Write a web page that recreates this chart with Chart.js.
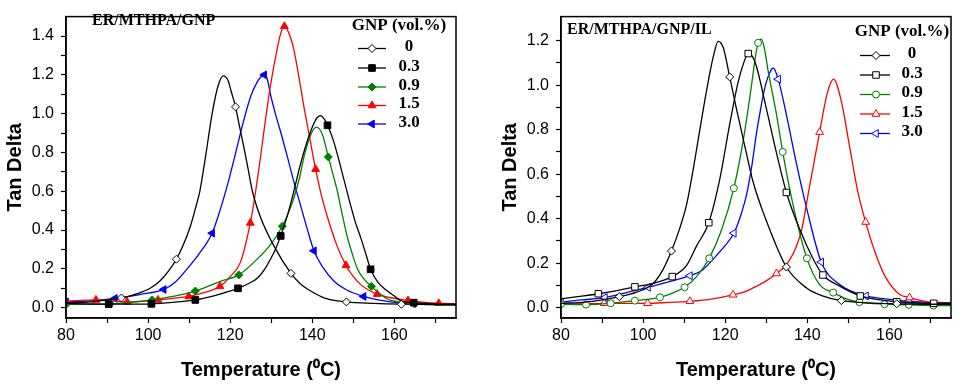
<!DOCTYPE html>
<html>
<head>
<meta charset="utf-8">
<script src="https://cdn.jsdelivr.net/npm/chart.js@4.4.1/dist/chart.umd.min.js"></script>
<style>
html,body{margin:0;padding:0;background:#fff;}
#wrap{position:relative;width:957px;height:385px;overflow:hidden;background:#fff;}
canvas{position:absolute;top:0;}
#cA{left:0;}
#cB{left:478px;}
</style>
</head>
<body>
<div id="wrap">
<canvas id="cA" width="478" height="385"></canvas>
<canvas id="cB" width="479" height="385"></canvas>
</div>
<script>
// ---------------- DATA ----------------
const legendTitle = 'GNP (vol.%)';
const legendLabels = ['0', '0.3', '0.9', '1.5', '3.0'];
const titleA = 'ER/MTHPA/GNP';
const titleB = 'ER/MTHPA/GNP/IL';
const xTitle = 'Temperature (\u2070C)';
const yTitle = 'Tan Delta';

const xMajor = [80, 100, 120, 140, 160];
const xMinor = [90, 110, 130, 150, 170];
const yMajorA = [0.0, 0.2, 0.4, 0.6, 0.8, 1.0, 1.2, 1.4];
const yMinorA = [0.1, 0.3, 0.5, 0.7, 0.9, 1.1, 1.3];
const yMajorB = [0.0, 0.2, 0.4, 0.6, 0.8, 1.0, 1.2];
const yMinorB = [0.1, 0.3, 0.5, 0.7, 0.9, 1.1];

// Panel A : ER/MTHPA/GNP  (T = temperature, V = tan delta, M = marker temperatures)
const a0T = [80, 86, 90, 93.5, 97, 100.5, 103, 105, 106.9, 108.5, 110.3, 111.5, 112.6, 114, 115.6, 117, 118.3, 119.5, 120.3, 121.3, 122.3, 123.3, 124.4, 125.4, 127.4, 130.6, 134.8, 137, 139.6, 143, 148.3, 155, 161.7, 175];
const a0V = [0.025, 0.03, 0.04, 0.05, 0.07, 0.10, 0.14, 0.19, 0.25, 0.32, 0.42, 0.51, 0.60, 0.78, 1.0, 1.14, 1.195, 1.17, 1.11, 1.035, 0.93, 0.83, 0.71, 0.60, 0.465, 0.32, 0.177, 0.125, 0.086, 0.05, 0.03, 0.022, 0.018, 0.015];
const a0M = [93.5, 106.9, 121.3, 134.8, 148.3, 161.7];

const a1T = [80, 85, 90.4, 95, 100.8, 106, 111.5, 116, 119, 121.9, 124.5, 126.6, 128.3, 129.8, 131, 132.3, 134, 135.5, 137, 138.8, 140.4, 141.2, 142, 142.8, 143.7, 145, 146.1, 147.7, 149.3, 150.5, 151.8, 153, 154.2, 156, 158.3, 160, 161.5, 164.7, 170, 175];
const a1V = [0.022, 0.02, 0.018, 0.018, 0.02, 0.028, 0.04, 0.061, 0.08, 0.10, 0.125, 0.152, 0.195, 0.25, 0.30, 0.37, 0.48, 0.60, 0.73, 0.86, 0.95, 0.98, 0.99, 0.975, 0.94, 0.87, 0.79, 0.66, 0.53, 0.44, 0.36, 0.28, 0.198, 0.13, 0.086, 0.06, 0.036, 0.026, 0.02, 0.018];
const a1M = [90.4, 100.8, 111.5, 121.9, 132.3, 143.7, 154.2, 164.7];

const a2T = [80, 90.8, 96, 101, 106, 111.5, 117.6, 122.1, 127.4, 130, 132.7, 134, 135.5, 137, 138, 139.6, 141, 142.5, 143.9, 145, 146.1, 147.3, 148.5, 150, 151, 152.5, 154.4, 156, 158.3, 161, 164.8, 170, 175];
const a2V = [0.017, 0.02, 0.028, 0.04, 0.058, 0.086, 0.136, 0.169, 0.268, 0.33, 0.42, 0.48, 0.565, 0.68, 0.78, 0.89, 0.93, 0.89, 0.777, 0.69, 0.60, 0.48, 0.367, 0.26, 0.20, 0.15, 0.11, 0.08, 0.045, 0.03, 0.02, 0.015, 0.013];
const a2M = [80, 90.8, 101, 111.5, 122.1, 132.7, 143.9, 154.4, 164.8];

const a3T = [80, 87.3, 94.9, 102.4, 106, 109.9, 114, 117.5, 120, 122.5, 124.9, 126.2, 127.4, 128.6, 129.8, 131.5, 132.4, 133.2, 134.2, 135.5, 136.8, 138, 139.5, 140.8, 142.2, 143.7, 146, 148.2, 150, 151.8, 153.8, 155.8, 159.5, 163.3, 170.8, 175];
const a3V = [0.035, 0.04, 0.03, 0.04, 0.048, 0.058, 0.08, 0.11, 0.16, 0.235, 0.437, 0.60, 0.78, 0.97, 1.144, 1.34, 1.42, 1.45, 1.42, 1.33, 1.18, 1.03, 0.86, 0.714, 0.58, 0.466, 0.32, 0.218, 0.16, 0.119, 0.09, 0.07, 0.05, 0.037, 0.023, 0.02];
const a3M = [87.3, 94.9, 102.4, 109.9, 117.5, 124.9, 133.2, 140.8, 148.2, 155.8, 163.3, 170.8];

const a4T = [80, 86, 91.9, 98, 103.8, 106.5, 109.5, 112.5, 115.6, 117.5, 119.3, 121, 122.5, 124, 125, 126.5, 127.5, 128.3, 129, 129.8, 131, 132.5, 133.9, 135.5, 137.1, 138.7, 140.4, 142.5, 145.3, 148.5, 152.5, 156, 159.9, 164.7, 175];
const a4V = [0.03, 0.035, 0.048, 0.068, 0.094, 0.13, 0.2, 0.28, 0.384, 0.5, 0.63, 0.77, 0.9, 1.02, 1.09, 1.16, 1.19, 1.2, 1.18, 1.1, 1.0, 0.89, 0.78, 0.65, 0.53, 0.41, 0.293, 0.21, 0.136, 0.09, 0.058, 0.04, 0.028, 0.022, 0.02];
const a4M = [80, 91.9, 103.8, 115.6, 128.3, 140.4, 152.5, 164.7];

// Panel B : ER/MTHPA/GNP/IL
const b0T = [80, 86, 90, 94.2, 98.4, 102.5, 104.8, 106.9, 108.8, 110.6, 112, 113.4, 115.4, 117.1, 118.3, 119.5, 121.1, 122.7, 124.8, 126.8, 130, 134.9, 139.8, 143.5, 148.3, 155, 161.8, 175];
const b0V = [0.02, 0.025, 0.035, 0.05, 0.07, 0.11, 0.17, 0.255, 0.35, 0.464, 0.6, 0.753, 0.97, 1.128, 1.197, 1.17, 1.037, 0.897, 0.724, 0.565, 0.392, 0.183, 0.089, 0.055, 0.032, 0.022, 0.018, 0.015];
const b0M = [94.2, 106.9, 121.1, 134.9, 148.3, 161.8];

const b1T = [80, 84, 89.1, 93, 98, 102.5, 107.1, 110.6, 113, 116, 118.7, 121.1, 123.1, 124.5, 125.6, 126.6, 127.6, 130, 132.5, 134.9, 138.2, 141.4, 143.8, 147.9, 152.9, 156, 161.8, 170.8, 175];
const b1V = [0.04, 0.05, 0.063, 0.075, 0.094, 0.11, 0.14, 0.19, 0.277, 0.382, 0.58, 0.825, 1.01, 1.1, 1.142, 1.13, 1.085, 0.897, 0.695, 0.518, 0.35, 0.22, 0.147, 0.097, 0.053, 0.04, 0.027, 0.02, 0.02];
const b1M = [89.1, 98, 107.1, 116, 125.6, 134.9, 143.8, 152.9, 161.8, 170.8];

const b2T = [80, 86.1, 92.1, 98, 104.1, 107, 110.1, 113, 116.1, 119.1, 122.1, 124.4, 126.4, 127.3, 128, 128.8, 129.6, 130.4, 132.5, 134, 136.5, 139.9, 143, 146.3, 149.5, 152.7, 158.8, 164.7, 170.7, 175];
const b2V = [0.017, 0.014, 0.02, 0.032, 0.047, 0.065, 0.092, 0.14, 0.222, 0.349, 0.537, 0.753, 0.998, 1.12, 1.19, 1.207, 1.16, 1.07, 0.868, 0.70, 0.464, 0.222, 0.104, 0.068, 0.04, 0.025, 0.016, 0.013, 0.01, 0.01];
const b2M = [80, 86.1, 92.1, 98, 104.1, 110.1, 116.1, 122.1, 128, 134, 139.9, 146.3, 152.7, 158.8, 164.7, 170.7];

const b3T = [80, 90.5, 101.1, 106, 111.4, 117, 121.9, 124.5, 126.8, 129.5, 132.5, 134.2, 135.7, 137.2, 138.6, 140.6, 143, 144.8, 146.4, 148.3, 150.3, 152.3, 154.2, 156.8, 159.2, 162.5, 164.9, 170, 175];
const b3V = [0.015, 0.02, 0.02, 0.024, 0.029, 0.04, 0.058, 0.07, 0.089, 0.115, 0.154, 0.18, 0.215, 0.27, 0.349, 0.551, 0.789, 0.96, 1.027, 0.926, 0.724, 0.522, 0.385, 0.234, 0.133, 0.06, 0.046, 0.025, 0.02];
const b3M = [90.5, 101.1, 111.4, 121.9, 132.5, 143, 154.2, 164.9];

const b4T = [80, 85, 90.7, 96, 101.2, 106, 111.4, 114.5, 117.1, 120, 122.1, 123.7, 125.2, 126.5, 127.6, 128.6, 129.6, 130.7, 131.7, 132.9, 134.9, 137.3, 139.8, 143.4, 147.9, 154.3, 159, 164.8, 175];
const b4V = [0.025, 0.035, 0.046, 0.068, 0.092, 0.115, 0.144, 0.17, 0.219, 0.28, 0.335, 0.41, 0.508, 0.64, 0.782, 0.89, 0.984, 1.05, 1.077, 1.027, 0.868, 0.652, 0.45, 0.205, 0.104, 0.053, 0.04, 0.029, 0.022];
const b4M = [80, 90.7, 101.2, 111.4, 122.1, 132.9, 143.4, 154.3, 164.8];

// ---------------- STYLE ----------------
const COLORS = ['#000000', '#000000', '#008000', '#ff0000', '#0000ff'];
const SANS = '"Liberation Sans", Arial, Helvetica, sans-serif';
const SERIF = '"Liberation Serif", "Times New Roman", Times, serif';
Chart.defaults.font.family = SANS;
Chart.defaults.color = '#000';

function drawMarker(ctx, style, rot, x, y, r, fill, stroke) {
  ctx.beginPath();
  if (style === 'rect') {
    const s = r * Math.SQRT1_2;
    ctx.rect(x - s, y - s, 2 * s, 2 * s);
  } else if (style === 'rectRot') {
    ctx.moveTo(x - r, y); ctx.lineTo(x, y - r); ctx.lineTo(x + r, y); ctx.lineTo(x, y + r); ctx.closePath();
  } else if (style === 'circle') {
    ctx.arc(x, y, r, 0, Math.PI * 2);
  } else {
    let a = rot * Math.PI / 180;
    ctx.moveTo(x + Math.sin(a) * r, y - Math.cos(a) * r);
    a += 2 * Math.PI / 3;
    ctx.lineTo(x + Math.sin(a) * r, y - Math.cos(a) * r);
    a += 2 * Math.PI / 3;
    ctx.lineTo(x + Math.sin(a) * r, y - Math.cos(a) * r);
    ctx.closePath();
  }
  ctx.fillStyle = fill; ctx.fill();
  ctx.lineWidth = 1; ctx.strokeStyle = stroke; ctx.stroke();
}

const decor = {
  id: 'decor',
  afterDraw(chart, args, o) {
    const ctx = chart.ctx, a = chart.chartArea;
    ctx.save();
    ctx.strokeStyle = '#000'; ctx.lineWidth = 1.5;
    ctx.strokeRect(a.left, a.top, a.right - a.left, a.bottom - a.top);
    ctx.fillStyle = '#000';
    ctx.textBaseline = 'middle';
    ctx.font = 'bold 16px ' + SERIF;
    ctx.textAlign = 'left';
    ctx.fillText(o.title, o.titleX, o.titleY);
    ctx.font = 'bold 17px ' + SERIF;
    ctx.textAlign = 'center';
    ctx.fillText(legendTitle, o.legX, o.legY);
    chart.data.datasets.forEach((ds, i) => {
      const y = o.entryY[i];
      ctx.strokeStyle = ds.borderColor; ctx.lineWidth = 1.3;
      ctx.beginPath(); ctx.moveTo(o.lineX0, y + 1.5); ctx.lineTo(o.lineX1, y + 1.5); ctx.stroke();
      drawMarker(ctx, ds.pointStyle, ds.pointRotation, o.markX, y + 1.5, ds.mRadius, ds.pointBackgroundColor, ds.borderColor);
      ctx.fillStyle = '#000';
      ctx.font = 'bold 17px ' + SERIF;
      ctx.textAlign = 'center';
      ctx.fillText(legendLabels[i], o.labelX, y);
    });
    ctx.restore();
  }
};

function mkSet(T, V, M, i, style, rot, fill, r) {
  return {
    data: T.map((t, k) => ({x: t, y: V[k]})),
    borderColor: COLORS[i],
    borderWidth: 1.3,
    pointStyle: style,
    pointRotation: rot,
    pointBackgroundColor: fill,
    pointBorderColor: COLORS[i],
    pointBorderWidth: 1,
    mRadius: r,
    pointRadius: c => (c.raw && M.includes(c.raw.x)) ? r : 0,
    pointHoverRadius: c => (c.raw && M.includes(c.raw.x)) ? r : 0,
    cubicInterpolationMode: 'monotone',
    fill: false
  };
}

function isIn(arr, v) { return arr.some(m => Math.abs(m - v) < 1e-6); }

function makeChart(id, datasets, p) {
  return new Chart(document.getElementById(id), {
    type: 'line',
    data: {datasets},
    plugins: [decor],
    options: {
      responsive: false,
      animation: false,
      devicePixelRatio: 1,
      events: [],
      layout: {padding: {left: 0, right: p.padRight, top: 5, bottom: 0}},
      plugins: {
        legend: {display: false},
        tooltip: {enabled: false},
        decor: p.decor
      },
      scales: {
        x: {
          type: 'linear', min: 80, max: 175, bounds: 'data',
          afterBuildTicks: s => { s.ticks = xMajor.concat(xMinor).sort((a, b) => a - b).map(v => ({value: v})); },
          afterFit: s => { s.height = p.xHeight; },
          ticks: {autoSkip: false, maxRotation: 0, padding: 3, color: '#000', font: {size: 16},
            callback: v => isIn(xMajor, v) ? String(v) : ''},
          grid: {drawOnChartArea: false, drawTicks: true, tickLength: 5, tickColor: '#000', tickWidth: 1.2},
          border: {display: true, color: '#000', width: 1.5},
          title: {display: true, text: xTitle, color: '#000', font: {size: 20, weight: 'bold'}, padding: {top: 0, bottom: 3}}
        },
        y: {
          type: 'linear', min: p.yMin, max: p.yMax, bounds: 'data',
          afterBuildTicks: s => { s.ticks = p.yMajor.concat(p.yMinor).sort((a, b) => a - b).map(v => ({value: v})); },
          afterFit: s => { s.width = p.yWidth; },
          ticks: {autoSkip: false, padding: 7, color: '#000', font: {size: 16},
            callback: v => isIn(p.yMajor, v) ? v.toFixed(1) : ''},
          grid: {drawOnChartArea: false, drawTicks: true, tickLength: 5, tickColor: '#000', tickWidth: 1.2},
          border: {display: true, color: '#000', width: 1.5},
          title: {display: true, text: yTitle, color: '#000', font: {size: 20, weight: 'bold'}, padding: {top: p.yTitlePad, bottom: 0}}
        }
      }
    }
  });
}

const setsA = [
  mkSet(a0T, a0V, a0M, 0, 'rectRot', 0, '#ffffff', 4),
  mkSet(a1T, a1V, a1M, 1, 'rect', 0, COLORS[1], 4.7),
  mkSet(a2T, a2V, a2M, 2, 'rectRot', 0, COLORS[2], 4),
  mkSet(a3T, a3V, a3M, 3, 'triangle', 0, COLORS[3], 4.5),
  mkSet(a4T, a4V, a4M, 4, 'triangle', -90, COLORS[4], 4.5)
];
const setsB = [
  mkSet(b0T, b0V, b0M, 0, 'rectRot', 0, '#ffffff', 4),
  mkSet(b1T, b1V, b1M, 1, 'rect', 0, '#ffffff', 4.6),
  mkSet(b2T, b2V, b2M, 2, 'circle', 0, '#ffffff', 3.5),
  mkSet(b3T, b3V, b3M, 3, 'triangle', 0, '#ffffff', 4.5),
  mkSet(b4T, b4V, b4M, 4, 'triangle', -90, '#ffffff', 4.5)
];

makeChart('cA', setsA, {
  yMin: -0.053, yMax: 1.5, yMajor: yMajorA, yMinor: yMinorA,
  yWidth: 66, xHeight: 67, padRight: 22, yTitlePad: 3,
  decor: {title: titleA, titleX: 92, titleY: 21, legX: 399, legY: 26,
    entryY: [47, 66.5, 85.5, 104, 122.5], lineX0: 358, lineX1: 386, markX: 372, labelX: 409}
});
makeChart('cB', setsB, {
  yMin: -0.046, yMax: 1.308, yMajor: yMajorB, yMinor: yMinorB,
  yWidth: 83, xHeight: 67, padRight: 6, yTitlePad: 20,
  decor: {title: titleB, titleX: 89, titleY: 30, legX: 424, legY: 32,
    entryY: [54, 73.5, 93, 112.5, 132], lineX0: 382, lineX1: 412, markX: 398, labelX: 434}
});
</script>
</body>
</html>
